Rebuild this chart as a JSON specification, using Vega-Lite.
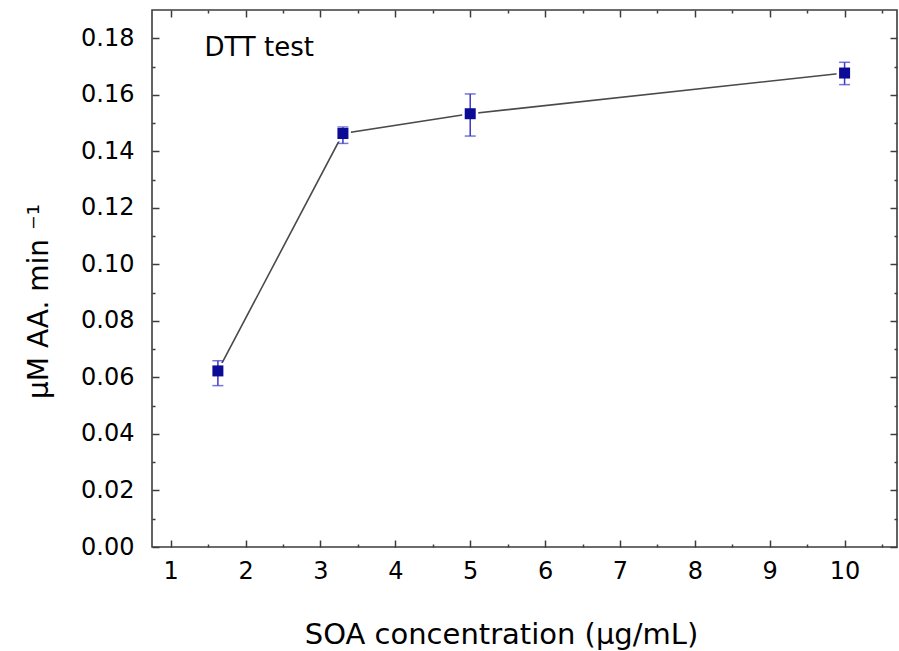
{
  "$schema": "https://vega.github.io/schema/vega-lite/v6.json",
  "width": 745,
  "height": 537,
  "autosize": "none",
  "padding": {"left": 152, "top": 10, "right": 2, "bottom": 104},
  "background": "white",
  "config": {
    "view": {"stroke": "#3c3c3c", "strokeWidth": 1.6},
    "font": "DejaVu Sans",
    "axis": {
      "domain": false,
      "grid": false,
      "tickColor": "#3c3c3c",
      "tickWidth": 1.5,
      "labelFont": "DejaVu Sans",
      "labelFontSize": 24,
      "labelColor": "#000000",
      "titleFont": "DejaVu Sans",
      "titleFontWeight": "normal",
      "titleFontSize": 28,
      "titleColor": "#000000"
    }
  },
  "data": {
    "values": [
      {"c": 1.63, "v": 0.0623, "lo": 0.0571, "hi": 0.0659},
      {"c": 3.30, "v": 0.1463, "lo": 0.1428, "hi": 0.1486},
      {"c": 5.0, "v": 0.1533, "lo": 0.1454, "hi": 0.1603},
      {"c": 10.0, "v": 0.1677, "lo": 0.1636, "hi": 0.1715}
    ]
  },
  "layer": [
    {
      "mark": {"type": "line", "color": "#4a4a4a", "strokeWidth": 1.6},
      "encoding": {
        "x": {
          "field": "c", "type": "quantitative",
          "scale": {"domain": [0.75, 10.7], "nice": false, "zero": false},
          "axis": {
            "orient": "bottom", "values": [1, 2, 3, 4, 5, 6, 7, 8, 9, 10],
            "tickSize": -7, "labelPadding": 19, "labelFlush": false,
            "title": "SOA concentration (μg/mL)", "titlePadding": 37,
            "titleFontSize": 29, "titleX": 349, "titleAnchor": "middle", "titleAlign": "center"
          }
        },
        "y": {
          "field": "v", "type": "quantitative",
          "scale": {"domain": [0, 0.19], "nice": false},
          "axis": {
            "orient": "left",
            "values": [0, 0.02, 0.04, 0.06, 0.08, 0.1, 0.12, 0.14, 0.16, 0.18],
            "format": ".2f", "tickSize": -7, "labelPadding": 25, "labelFlush": false,
            "title": "μM AA. min ⁻¹", "titlePadding": 27,
            "titleY": 291, "titleAnchor": "middle", "titleAlign": "center"
          }
        }
      }
    },
    {
      "mark": {"type": "point", "shape": "square", "filled": true, "size": 121, "color": "#0b0b96", "stroke": "white", "strokeWidth": 5, "opacity": 1},
      "encoding": {
        "x": {
          "field": "c", "type": "quantitative",
          "axis": {
            "orient": "bottom", "values": [1.5, 2.5, 3.5, 4.5, 5.5, 6.5, 7.5, 8.5, 9.5, 10.5],
            "tickSize": -3, "labels": false, "title": null
          }
        },
        "y": {
          "field": "v", "type": "quantitative",
          "axis": {
            "orient": "left",
            "values": [0.01, 0.03, 0.05, 0.07, 0.09, 0.11, 0.13, 0.15, 0.17],
            "tickSize": -3, "labels": false, "title": null
          }
        }
      }
    },
    {
      "mark": {"type": "rule", "color": "#3a3ac8", "strokeWidth": 1.5},
      "encoding": {
        "x": {
          "field": "c", "type": "quantitative",
          "axis": {
            "orient": "top", "values": [1, 2, 3, 4, 5, 6, 7, 8, 9, 10],
            "tickSize": -7, "labels": false, "title": null
          }
        },
        "y": {
          "field": "lo", "type": "quantitative",
          "axis": {
            "orient": "right",
            "values": [0, 0.02, 0.04, 0.06, 0.08, 0.1, 0.12, 0.14, 0.16, 0.18],
            "tickSize": -7, "labels": false, "title": null
          }
        },
        "y2": {"field": "hi"}
      }
    },
    {
      "mark": {"type": "tick", "orient": "horizontal", "color": "#3a3ac8", "thickness": 1.5, "size": 11},
      "encoding": {
        "x": {
          "field": "c", "type": "quantitative",
          "axis": {
            "orient": "top", "values": [1.5, 2.5, 3.5, 4.5, 5.5, 6.5, 7.5, 8.5, 9.5, 10.5],
            "tickSize": -3, "labels": false, "title": null
          }
        },
        "y": {
          "field": "lo", "type": "quantitative",
          "axis": {
            "orient": "right",
            "values": [0.01, 0.03, 0.05, 0.07, 0.09, 0.11, 0.13, 0.15, 0.17],
            "tickSize": -3, "labels": false, "title": null
          }
        }
      }
    },
    {
      "mark": {"type": "tick", "orient": "horizontal", "color": "#3a3ac8", "thickness": 1.5, "size": 11},
      "encoding": {
        "x": {"field": "c", "type": "quantitative", "axis": null},
        "y": {"field": "hi", "type": "quantitative", "axis": null}
      }
    },
    {
      "mark": {"type": "point", "shape": "square", "filled": true, "size": 121, "color": "#0b0b96", "opacity": 1},
      "encoding": {
        "x": {"field": "c", "type": "quantitative", "axis": null},
        "y": {"field": "v", "type": "quantitative", "axis": null}
      }
    },
    {
      "data": {"values": [{"label": "DTT test"}]},
      "mark": {"type": "text", "align": "left", "baseline": "middle", "fontSize": 26, "font": "DejaVu Sans", "color": "#000000"},
      "encoding": {
        "x": {"datum": 1.45, "type": "quantitative", "axis": null},
        "y": {"datum": 0.1765, "type": "quantitative", "axis": null},
        "text": {"field": "label"}
      }
    }
  ],
  "resolve": {"axis": {"x": "independent", "y": "independent"}}
}
